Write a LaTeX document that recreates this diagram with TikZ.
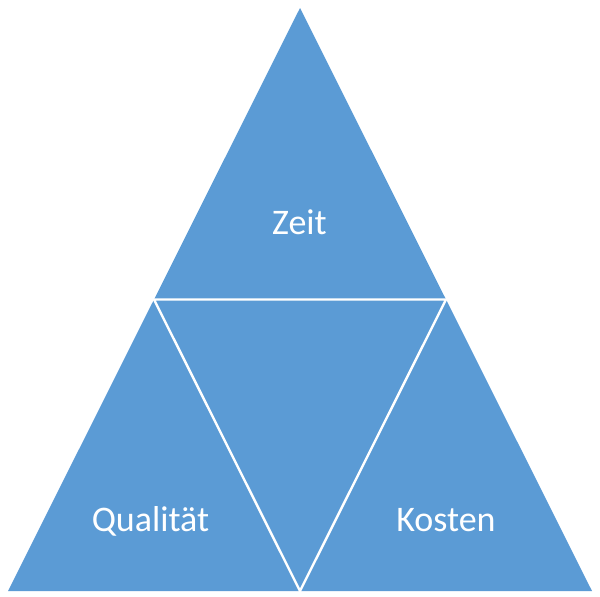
\documentclass[tikz,border=0pt]{standalone}
\usepackage{fontspec}
\setmainfont{Carlito}
\definecolor{officeblue}{HTML}{5B9BD5}
\begin{document}
\begin{tikzpicture}[x=1pt,y=-1pt,
  lbl/.style={text=white,font=\fontsize{36}{40}\selectfont,anchor=base,inner sep=0pt}]
\useasboundingbox (0,0) rectangle (600,597);
\coordinate (A) at (300,8);
\coordinate (B) at (8,591);
\coordinate (C) at (592,591);
\coordinate (AB) at (154,299.5);
\coordinate (AC) at (446,299.5);
\coordinate (BC) at (300,591);
\fill[officeblue] (A) -- (B) -- (C) -- cycle;
\draw[white,line width=2.4pt] (AB) -- (AC) -- (BC) -- cycle;
\node[lbl] (zeit) at (299.5,234) {Zeit};
\node[lbl] (qual) at (150.5,531) {Qualität};
\node[lbl] (kost) at (446,531) {Kosten};
\end{tikzpicture}
\end{document}
